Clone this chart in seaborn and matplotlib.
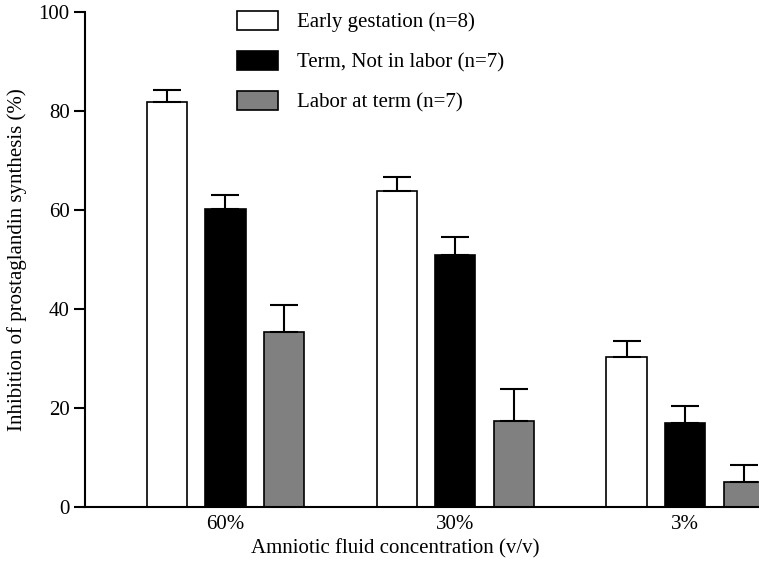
import numpy as np
import pandas as pd
import seaborn as sns
import matplotlib.pyplot as plt

# values (mean, upper error)
concentrations = ['60%', '30%', '3%']
groups = ['Early gestation (n=8)', 'Term, Not in labor (n=7)', 'Labor at term (n=7)']
early_mean = [81.8, 63.8, 30.4]
early_err = [2.5, 2.9, 3.2]
term_mean = [60.2, 51.0, 17.0]
term_err = [2.8, 3.5, 3.4]
labor_mean = [35.4, 17.4, 5.1]
labor_err = [5.5, 6.5, 3.4]
bar_colors = ['white', 'black', '#808080']

df = pd.DataFrame({
    'conc': concentrations * 3,
    'group': [groups[0]] * 3 + [groups[1]] * 3 + [groups[2]] * 3,
    'value': early_mean + term_mean + labor_mean,
})
errs = [early_err, term_err, labor_err]

sns.set_theme(style='ticks', rc={'axes.edgecolor': 'black', 'xtick.color': 'black',
                                 'ytick.color': 'black', 'text.color': 'black',
                                 'axes.labelcolor': 'black'})
plt.rcParams['font.family'] = ['Liberation Serif', 'DejaVu Serif']
fs = 15

fig = plt.figure(figsize=(7.59, 5.61), dpi=100)
ax = fig.add_axes([85 / 759, 1 - 507 / 561, 1 - 85 / 759, (507 - 12) / 561])

sns.barplot(data=df, x='conc', y='value', hue='group', order=concentrations,
            hue_order=groups, palette=bar_colors, saturation=1, edgecolor='black',
            linewidth=1.2, width=0.764, gap=0.316, errorbar=None, ax=ax)

# one-sided (upper) error bars on top of each bar
for container, e in zip(ax.containers, errs):
    xs = [b.get_x() + b.get_width() / 2 for b in container]
    ys = [b.get_height() for b in container]
    ax.errorbar(xs, ys, yerr=[np.zeros(len(e)), e], fmt='none', ecolor='black',
                elinewidth=1.5, capsize=10, capthick=1.5)

ax.set_xlim(-0.6115, 2.322)
ax.set_ylim(0, 100)
ax.set_yticks([0, 20, 40, 60, 80, 100])
sns.despine(ax=ax)
for s in ['left', 'bottom']:
    ax.spines[s].set_linewidth(1.5)
ax.tick_params(axis='x', length=0, pad=6, labelsize=fs)
ax.tick_params(axis='y', length=8, width=1.5, pad=3, labelsize=fs)

ax.set_xlabel('Amniotic fluid concentration (v/v)', fontsize=fs)
ax.xaxis.set_label_coords(0.461, -0.065)
ax.set_ylabel('Inhibition of prostaglandin synthesis (%)', fontsize=fs, labelpad=8)

handles, labels = ax.get_legend_handles_labels()
ax.legend(handles, labels, loc='upper left', bbox_to_anchor=(237 / 759, 1 - 11 / 561),
          bbox_transform=fig.transFigure, frameon=False, borderpad=0, borderaxespad=0,
          handlelength=1.97, handleheight=1.0, labelspacing=0.9, handletextpad=0.9,
          fontsize=fs)

fig.savefig('out.png', dpi=100)
